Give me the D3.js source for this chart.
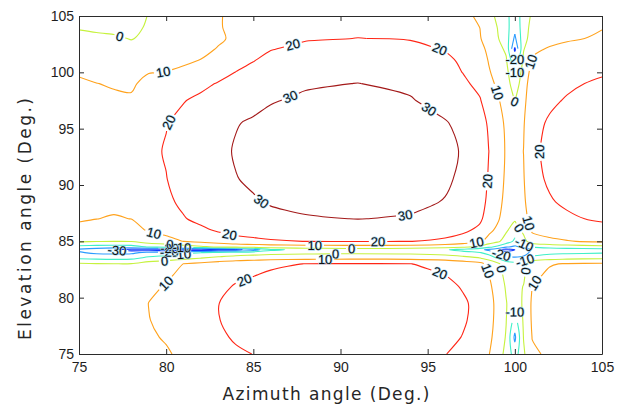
<!DOCTYPE html>
<html>
<head>
<meta charset="utf-8">
<script src="https://d3js.org/d3.v7.min.js"></script>
<style>
  body { margin: 0; background: #fff; }
  svg text { font-family: "Liberation Sans", Arial, sans-serif; }
</style>
</head>
<body>
<script>
// grid: columns = azimuth (deg), rows = elevation (deg), values = gain (dB)
var azimuth = [75, 76, 77, 78, 79, 80, 81, 82, 83, 84, 85, 86, 88, 91, 94, 96, 97, 98, 98.5, 99, 99.5, 100, 100.5, 101, 102, 103, 105];
var elevation = [75, 76.5, 78, 79.5, 81, 82, 83, 83.5, 84, 84.25, 84.5, 85, 86, 87, 88.5, 90.5, 93, 95.5, 97.5, 99, 100, 101, 102, 103, 104, 105];

var g75    = [3.5, 2.5, 2, 2.5, 7, 9, 12, 14.5, 17, 19, 20.1, 21, 22, 22.5, 22, 20.2, 18, 15, 10.5, 4.5, -2.5, -15, -1.5, 8.5, 11.5, 12.5, 13.5];
var g76_5  = [5.3, 4.3, 3.8, 4.3, 8.8, 10.8, 13.8, 16.3, 18.8, 20.8, 21.8, 22.8, 23.8, 24.3, 23.8, 22, 19.8, 16.8, 12.3, 6.3, -0.7, -22, 0.3, 10.3, 13.3, 14.3, 15.3];
var g78    = [6.3, 5.3, 4.8, 5.3, 9.8, 11.8, 14.8, 17.3, 19.8, 21.8, 22.8, 23.8, 24.8, 25.3, 24.8, 23, 20.8, 17.8, 13.3, 7.3, 0.3, -14, 1.3, 11.3, 14.3, 15.3, 16.3];
var g79_5  = [6.5, 5.5, 5, 5.5, 10.1, 12, 15, 17.5, 19.9, 22, 23, 24, 25, 25.5, 25, 23.2, 21, 18, 13.5, 7.5, 0.5, -6, 1.5, 11.5, 14.5, 15.5, 16.5];
var g81    = [5, 4, 3.5, 4, 8.5, 10.5, 13.5, 16, 18.5, 20.5, 21.5, 22.5, 23.5, 24, 23.5, 21.7, 19.5, 16.5, 12, 6, -1, -3, 0.3, 10.2, 13, 14, 15];
var g82    = [3.3, 2.3, 1.8, 2.3, 6.8, 8.8, 11.8, 14.3, 16.8, 18.8, 19.8, 20.8, 21.8, 22.3, 21.8, 20.1, 17.8, 14.8, 10.3, 4.3, -2.7, -4, -1.7, 8.3, 11.3, 12.3, 13.3];
var g83    = [1.5, 0.5, 0.2, 0.5, 5, 7, 10.1, 12.5, 15, 17, 18, 19, 20.1, 20.5, 20.1, 18.2, 16, 13, 8.5, 2.5, -4.5, -7, -3.5, 6.5, 9.5, 10.5, 11.5];
var g83_5  = [-11, -12, -12.5, -12, -7.5, -5.5, -2.5, 0.2, 2.5, 4.5, 5.5, 6.5, 7.5, 8, 7.5, 5.7, 3.5, 0.5, -4, -10.2, -17, -18, -16, -6, -3, -2, -1];
var g84    = [-19, -22, -22.5, -22, -17.5, -15.5, -12.5, -10.2, -7.5, -5.5, -4.5, -3.5, -2.5, -2, -2.5, -4.3, -6.5, -9.5, -14, -20.2, -27, -28, -26, -16, -13, -12, -11];
var g84_25 = [-22, -26, -31, -35, -36, -36, -36, -36, -35, -33, -25, -12, -7, -5, -6, -9, -13, -18, -22, -27, -34, -30, -24, -19, -16, -15, -14];
var g84_5  = [-13, -14, -14.5, -14, -9.5, -7.5, -4.5, -2, 0.5, 2.5, 3.5, 4.5, 5.5, 6, 5.5, 3.7, 1.5, -2.5, -8, -12.5, -19, -22, -18, -9, -6.5, -5, -3];
var g85    = [1.5, 0.5, 0.1, 0.5, 5, 7, 10.1, 12.5, 15, 17, 18, 19, 20.1, 20.5, 20.1, 18.2, 16, 12, 6.5, 2, -4.5, -12, -3.5, 5.5, 8, 9.5, 11.5];
var g86    = [7.5, 6.5, 6, 6.5, 11, 13, 16, 18.5, 21, 23, 24, 25, 26, 26.5, 26, 24.2, 22, 18, 12.5, 8, 1.5, -5, 2.5, 11.5, 14, 15.5, 17.5];
var g87    = [11, 10.1, 9.5, 10.1, 14.5, 16.5, 19.5, 22, 24.5, 26.5, 27.5, 28.5, 29.5, 30.1, 29.5, 27.7, 25.5, 21.5, 16, 11.5, 5, 1.5, 6, 15, 17.5, 19, 21];
var g88_5  = [13, 12, 11.5, 12, 16.5, 18.5, 21.5, 24, 26.5, 28.5, 29.5, 30.5, 31.5, 32, 31.5, 29.7, 27.5, 23.5, 18, 13.5, 7, 4, 8, 17, 19.5, 21, 23];
var g90_5  = [14.3, 13.3, 12.8, 13.3, 17.8, 19.8, 22.8, 25.3, 27.8, 29.8, 30.8, 31.8, 32.8, 33.3, 32.8, 31, 28.8, 24.8, 19.3, 14.8, 8.3, 6, 9.3, 18.3, 20.8, 22.3, 24.3];
var g93    = [15, 14, 13.5, 14, 18.5, 20.5, 23.5, 26, 28.5, 30.5, 31.5, 32.5, 33.5, 34, 33.5, 31.7, 29.5, 25.5, 20.1, 15.5, 9, 6, 10.1, 19, 21.5, 23, 25];
var g95_5  = [14.2, 13.2, 12.7, 13.2, 17.7, 19.7, 22.5, 25, 27.5, 29.7, 30.7, 31.7, 32.7, 33.2, 32.7, 30.5, 28.2, 24.2, 18.7, 14.3, 8.2, 4, 9.2, 18.2, 20.7, 22.2, 24.2];
var g97_5  = [12.5, 11.5, 11, 11.1, 15.3, 16.9, 19.6, 22, 24.6, 26.9, 28.3, 29.6, 31, 31.5, 30.5, 27.4, 24.6, 20.6, 15.4, 11.2, 6.5, -0.3, 7.5, 16.5, 19, 20.5, 22.5];
var g99    = [11, 10.1, 9.5, 8.8, 12.5, 13.5, 15.6, 17.8, 20.6, 23.5, 25.5, 27.3, 29.3, 30.1, 28.7, 24.8, 21.7, 17.7, 12.6, 8.6, 5, -6, 6, 15, 17.5, 19, 21];
var g100   = [9.3, 8.3, 7.8, 6.5, 9.7, 10.2, 11.9, 14, 16.9, 20.2, 22.7, 25, 27.5, 28.3, 27, 23.1, 19.9, 16, 10.9, 6.9, 3.3, -10, 4.3, 13.3, 15.8, 17.3, 19.3];
var g101   = [7.3, 6.3, 5.8, 4.1, 7, 7.1, 8.6, 10.5, 13.6, 17.1, 19.8, 22.6, 25.4, 26.3, 25.2, 21.7, 18.9, 14.9, 9.6, 5.5, 1.3, -18, 2.3, 11.3, 13.8, 15.3, 17.3];
var g102   = [4.5, 3.5, 3, 2.3, 4.2, 4.3, 5.8, 7.7, 10.8, 14.3, 17.2, 19.8, 22.6, 23.5, 22.6, 19.8, 17.2, 13.2, 7.9, 3.6, -1.5, -32, -0.5, 8.5, 11, 12.5, 14.5];
var g103   = [1, 1.5, 1, -0.3, 1.4, 1.9, 3.6, 5.7, 8.6, 11.9, 14.4, 16.7, 19.2, 20.1, 19.5, 17, 14.7, 10.7, 5.2, 0.9, -5, -22, -4, 5, 7.5, 9, 11];
var g104   = [-0.3, -1.3, -1.8, -2.5, 1.2, 2.2, 4.3, 6.5, 9.3, 12.2, 14.2, 16, 18, 18.7, 18.2, 16.1, 13.9, 9.9, 4.4, -0.1, -6.3, -17, -5.3, 3.7, 6.2, 7.7, 9.7];
var g105   = [-2, -3, -3.5, -3.6, 0.4, 2, 4.4, 6.7, 9.4, 11.9, 13.4, 14.9, 16.5, 17, 16.5, 14.6, 12.4, 8.4, 2.9, -1.6, -8, -14, -7, 2, 4.5, 6, 8];

var gainRows = [g75, g76_5, g78, g79_5, g81, g82, g83, g83_5, g84, g84_25, g84_5, g85, g86, g87,
                g88_5, g90_5, g93, g95_5, g97_5, g99, g100, g101, g102, g103, g104, g105];

var levels = [-30, -20, -10, 0, 10, 20, 30];
var axisTicks = [75, 80, 85, 90, 95, 100, 105];

var levelColor = d3.scaleOrdinal()
  .domain(levels)
  .range(["#1438ff", "#2c9cff", "#3ff0c8", "#c6f23e", "#ffa21c", "#ff2616", "#a31919"]);

var W = 629, H = 407;
var svg = d3.select("body").append("svg").attr("width", W).attr("height", H);

var x = d3.scaleLinear().domain([75, 105]).range([79, 602]);
var y = d3.scaleLinear().domain([75, 105]).range([354, 16]);

var nx = azimuth.length, ny = elevation.length;
// grid index -> degrees (grid is not evenly spaced)
var colAz = d3.scaleLinear().domain(d3.range(nx)).range(azimuth).clamp(true);
var rowEl = d3.scaleLinear().domain(d3.range(ny)).range(elevation).clamp(true);

var values = [].concat.apply([], gainRows);
var contours = d3.contours().size([nx, ny]).thresholds(levels)(values);

svg.append("clipPath").attr("id", "plot")
  .append("rect").attr("x", 79).attr("y", 16).attr("width", 523).attr("height", 338);

// turn contour rings into lines, dropping the pieces that run along the grid border
function toPixel(p) {
  var u = p[0] - 0.5, v = p[1] - 0.5, f = 0;
  if (u <= 1e-9) f |= 1;
  if (u >= nx - 1 - 1e-9) f |= 2;
  if (v <= 1e-9) f |= 4;
  if (v >= ny - 1 - 1e-9) f |= 8;
  return { p: [x(colAz(u)), y(rowEl(v))], f: f };
}

function ringToLines(ring, value) {
  var pts = ring.map(toPixel);
  var a = ring[0], b = ring[ring.length - 1];
  if (a[0] !== b[0] || a[1] !== b[1]) pts.push(pts[0]);
  var k = pts.length, edge = [], i;
  for (i = 0; i < k - 1; i++) edge.push((pts[i].f & pts[i + 1].f) !== 0);
  if (edge.indexOf(true) < 0) {
    return [{ pts: pts.map(function (d) { return d.p; }), closed: true, value: value }];
  }
  var start = edge.indexOf(true), out = [], cur = null;
  for (var j = 1; j <= k - 1; j++) {
    var s = (start + j) % (k - 1);
    if (edge[s]) {
      if (cur && cur.length > 1) out.push({ pts: cur, closed: false, value: value });
      cur = null;
    } else {
      if (!cur) cur = [pts[s].p];
      cur.push(pts[s + 1].p);
    }
  }
  if (cur && cur.length > 1) out.push({ pts: cur, closed: false, value: value });
  return out;
}

var lines = [];
contours.forEach(function (c) {
  c.coordinates.forEach(function (poly) {
    poly.forEach(function (ring) {
      lines = lines.concat(ringToLines(ring, c.value));
    });
  });
});

function cumLen(pts) {
  var c = [0];
  for (var i = 1; i < pts.length; i++) {
    c.push(c[i - 1] + Math.hypot(pts[i][0] - pts[i - 1][0], pts[i][1] - pts[i - 1][1]));
  }
  return c;
}
function pointAt(pts, c, s) {
  var i = d3.bisectLeft(c, s);
  if (i <= 0) return pts[0].slice();
  if (i >= pts.length) return pts[pts.length - 1].slice();
  var t = (s - c[i - 1]) / ((c[i] - c[i - 1]) || 1);
  return [pts[i - 1][0] + t * (pts[i][0] - pts[i - 1][0]), pts[i - 1][1] + t * (pts[i][1] - pts[i - 1][1])];
}
function slice(pts, c, a, b) {
  var out = [pointAt(pts, c, a)];
  for (var i = 0; i < pts.length; i++) if (c[i] > a && c[i] < b) out.push(pts[i]);
  out.push(pointAt(pts, c, b));
  return out;
}

// measure label widths
var probe = svg.append("text").style("font-size", "13px");
function textWidth(t) { probe.text(t); return probe.node().getComputedTextLength(); }

var spacing = 145;
var pieces = [], labels = [];
lines.forEach(function (L) {
  var pts = L.pts, c = cumLen(pts), len = c[c.length - 1];
  var txt = String(L.value), w = textWidth(txt) + 4;
  var nLab = Math.floor(len / spacing);
  if (nLab < 1 && len > w * 2.2) nLab = 1;
  var prev = 0;
  d3.range(nLab).forEach(function (k) {
    var s = (k + 0.5) * len / nLab;
    var p0 = pointAt(pts, c, s - w / 2), p1 = pointAt(pts, c, s + w / 2), pm = pointAt(pts, c, s);
    var ang = Math.atan2(p1[1] - p0[1], p1[0] - p0[0]) * 180 / Math.PI;
    if (ang > 90) ang -= 180;
    if (ang < -90) ang += 180;
    pieces.push({ pts: slice(pts, c, prev, s - w / 2), value: L.value });
    prev = s + w / 2;
    labels.push({ x: pm[0], y: pm[1], a: ang, t: txt });
  });
  pieces.push({ pts: slice(pts, c, prev, len), value: L.value });
});
probe.remove();

var line = d3.line().curve(d3.curveCatmullRom.alpha(0.5));
svg.append("g").attr("clip-path", "url(#plot)")
  .selectAll("path").data(pieces).enter().append("path")
  .attr("d", function (d) { return line(d.pts); })
  .attr("fill", "none")
  .attr("stroke", function (d) { return levelColor(d.value); })
  .attr("stroke-width", 1.1)
  .attr("stroke-linejoin", "round");

svg.append("g").selectAll("text").data(labels).enter().append("text")
  .attr("transform", function (d) { return "translate(" + d.x + "," + d.y + ") rotate(" + d.a + ")"; })
  .attr("text-anchor", "middle")
  .attr("dy", "0.36em")
  .style("font-size", "13px")
  .style("fill", "#111")
  .style("stroke", "#a9d6ee")
  .style("stroke-width", 1.2)
  .style("paint-order", "stroke")
  .text(function (d) { return d.t; });

// axes, ticks pointing inward on all four sides
function styleAxis(g) {
  g.selectAll("path, line").attr("stroke", "#2b2b2b");
  g.selectAll("text").style("font-size", "14px").attr("fill", "#1e1e1e");
}
svg.append("g").attr("transform", "translate(0,354)")
  .call(d3.axisBottom(x).tickValues(axisTicks).tickSize(-5).tickSizeOuter(0).tickPadding(8))
  .call(styleAxis);
svg.append("g").attr("transform", "translate(0,16)")
  .call(d3.axisTop(x).tickValues(axisTicks).tickSize(-5).tickSizeOuter(0).tickFormat(""))
  .call(styleAxis);
svg.append("g").attr("transform", "translate(79,0)")
  .call(d3.axisLeft(y).tickValues(axisTicks).tickSize(-5).tickSizeOuter(0).tickPadding(5))
  .call(styleAxis);
svg.append("g").attr("transform", "translate(602,0)")
  .call(d3.axisRight(y).tickValues(axisTicks).tickSize(-5).tickSizeOuter(0).tickFormat(""))
  .call(styleAxis);
svg.selectAll(".domain").attr("fill", "none");

svg.append("text")
  .attr("x", 326).attr("y", 400)
  .attr("text-anchor", "middle")
  .attr("textLength", 207).attr("lengthAdjust", "spacing")
  .style("font-family", "'DejaVu Sans', Verdana, sans-serif")
  .style("font-size", "17px").style("fill", "#262626")
  .text("Azimuth angle (Deg.)");

svg.append("text")
  .attr("transform", "translate(31,219) rotate(-90)")
  .attr("text-anchor", "middle")
  .attr("textLength", 242).attr("lengthAdjust", "spacing")
  .style("font-family", "'DejaVu Sans', Verdana, sans-serif")
  .style("font-size", "17px").style("fill", "#262626")
  .text("Elevation angle (Deg.)");
</script>
</body>
</html>
